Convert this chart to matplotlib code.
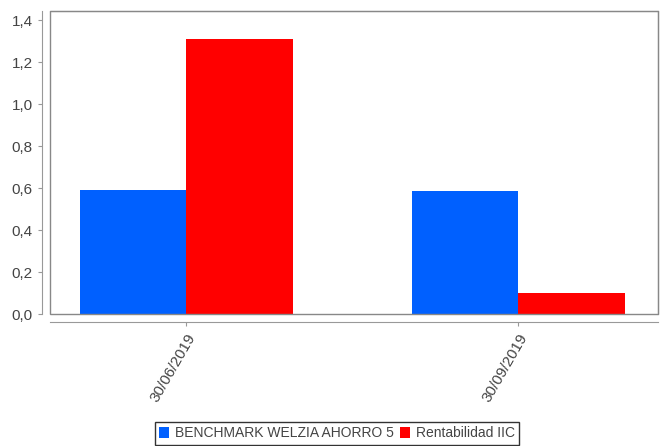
import numpy as np
import matplotlib.pyplot as plt
from matplotlib.patches import Rectangle

plt.rcParams['font.family'] = ['Liberation Sans', 'DejaVu Sans']

# data
dates = ['30/06/2019', '30/09/2019']
benchmark = [0.59, 0.588]
rentabilidad = [1.312, 0.102]
series_names = ['BENCHMARK WELZIA AHORRO 5', 'Rentabilidad IIC']
yticks = [0.0, 0.2, 0.4, 0.6, 0.8, 1.0, 1.2, 1.4]

blue = '#0060ff'
red = '#ff0000'
txt = '#444444'

fig = plt.figure(figsize=(6.62, 4.46), dpi=100)
ax = fig.add_axes([50/662, 1 - 314/446, 608/662, 303/446])

x = np.arange(len(dates))
w = 0.32
ax.bar(x - w/2, benchmark, w, color=blue, label=series_names[0])
ax.bar(x + w/2, rentabilidad, w, color=red, label=series_names[1])

ax.set_xlim(-0.41, 1.42)
ax.set_ylim(0, 1.443)

# frame around plot area plus offset axis lines
for s in ['top', 'right']:
    ax.spines[s].set_color('#888888')
for s in ['left', 'bottom']:
    ax.spines[s].set_position(('outward', 6))
    ax.spines[s].set_color('#999999')
ax.add_patch(Rectangle((0, 0), 1, 1, transform=ax.transAxes, fill=False,
                       edgecolor='#888888', lw=1, clip_on=False, zorder=5))
ax.tick_params(colors='#999999', labelcolor=txt, labelsize=11, length=3)

ax.set_yticks(yticks)
ax.set_yticklabels([f'{v:.1f}'.replace('.', ',') for v in yticks])
ax.set_xticks(x)
ax.set_xticklabels(dates)
plt.setp(ax.get_xticklabels(), rotation=60, ha='right', rotation_mode='anchor')

leg = ax.legend(loc='lower center', bbox_to_anchor=(337/662, 0.0), bbox_transform=fig.transFigure,
                ncol=2, frameon=True, fancybox=False, edgecolor='black', fontsize=10,
                handlelength=0.7, handleheight=0.8, handletextpad=0.4, columnspacing=0.5,
                borderpad=0.3, borderaxespad=0.1, labelcolor=txt)
leg.get_frame().set_linewidth(1)

fig.savefig('out.png', dpi=100)
